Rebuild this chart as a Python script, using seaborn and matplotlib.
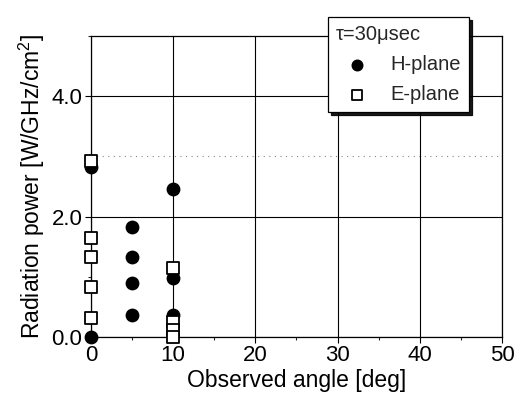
import pandas as pd
import seaborn as sns
import matplotlib.pyplot as plt
from matplotlib.ticker import MultipleLocator, FormatStrFormatter

# ==================================================
# data
# ==================================================
h_angle = [0, 0, 5, 5, 5, 5, 10, 10, 10]
h_power = [2.82, 0.0, 1.83, 1.33, 0.90, 0.37, 2.45, 0.98, 0.37]

e_angle = [0, 0, 0, 0, 0, 10, 10, 10, 10]
e_power = [2.93, 1.65, 1.33, 0.83, 0.32, 1.15, 0.25, 0.12, 0.0]

df = pd.concat([
    pd.DataFrame({"angle": h_angle, "power": h_power, "plane": "H-plane"}),
    pd.DataFrame({"angle": e_angle, "power": e_power, "plane": "E-plane"}),
])

# ==================================================
# style
# ==================================================
sns.set_theme(style="white")
plt.rcParams["font.family"] = ["Liberation Sans", "DejaVu Sans"]
plt.rcParams["mathtext.fontset"] = "custom"
plt.rcParams["mathtext.rm"] = "Liberation Sans"

fig = plt.figure(figsize=(5.22, 4.01), dpi=100)
ax = fig.add_axes([0.174, 0.160, 0.788, 0.750])

ax.set_axisbelow(True)
ax.grid(which="major", color="black", lw=0.8, ls="-")
# faint dotted line at 3.0
ax.axhline(3.0, color="#888888", lw=0.8, ls=(0, (1, 4)), zorder=0)

sns.scatterplot(
    data=df[df["plane"] == "H-plane"], x="angle", y="power",
    marker="o", color="black", edgecolor="black", s=80,
    linewidth=1, ax=ax, label="H-plane", clip_on=False, zorder=3
)
sns.scatterplot(
    data=df[df["plane"] == "E-plane"], x="angle", y="power",
    marker="s", color="white", edgecolor="black", s=75,
    linewidth=1.3, ax=ax, label="E-plane", clip_on=False, zorder=4
)

ax.set_xlim(0, 50)
ax.set_ylim(0, 5)
ax.xaxis.set_major_locator(MultipleLocator(10))
ax.xaxis.set_minor_locator(MultipleLocator(5))
ax.yaxis.set_major_locator(MultipleLocator(2))
ax.yaxis.set_minor_locator(MultipleLocator(1))
ax.yaxis.set_major_formatter(FormatStrFormatter("%.1f"))

ax.tick_params(which="major", direction="out", length=4, width=0.8,
               colors="black", labelsize=16, pad=2, left=True, bottom=True)
ax.tick_params(which="minor", direction="out", length=2, width=0.8,
               left=True, bottom=True)

for sp in ax.spines.values():
    sp.set_color("black")
    sp.set_linewidth(0.9)

ax.set_xlabel("Observed angle [deg]", fontsize=16.5, color="black", labelpad=2)
ax.set_ylabel("Radiation power [W/GHz/cm$^2$]", fontsize=16.5, color="black",
              labelpad=3)

leg = ax.legend(
    title="τ=30μsec", loc="upper left",
    bbox_to_anchor=(0.628, 0.958), bbox_transform=fig.transFigure,
    borderaxespad=0, frameon=True, fancybox=False,
    shadow={"color": "black", "alpha": 0.9},
    edgecolor="black", fontsize=14.5, title_fontsize=14.5,
    handlelength=2.1, handletextpad=0.6, markerscale=0.85,
    borderpad=0.4, labelspacing=0.55, framealpha=1
)
leg._legend_box.align = "left"
leg.get_frame().set_linewidth(0.9)
leg.set_zorder(10)

fig.savefig("out.png", dpi=100)
